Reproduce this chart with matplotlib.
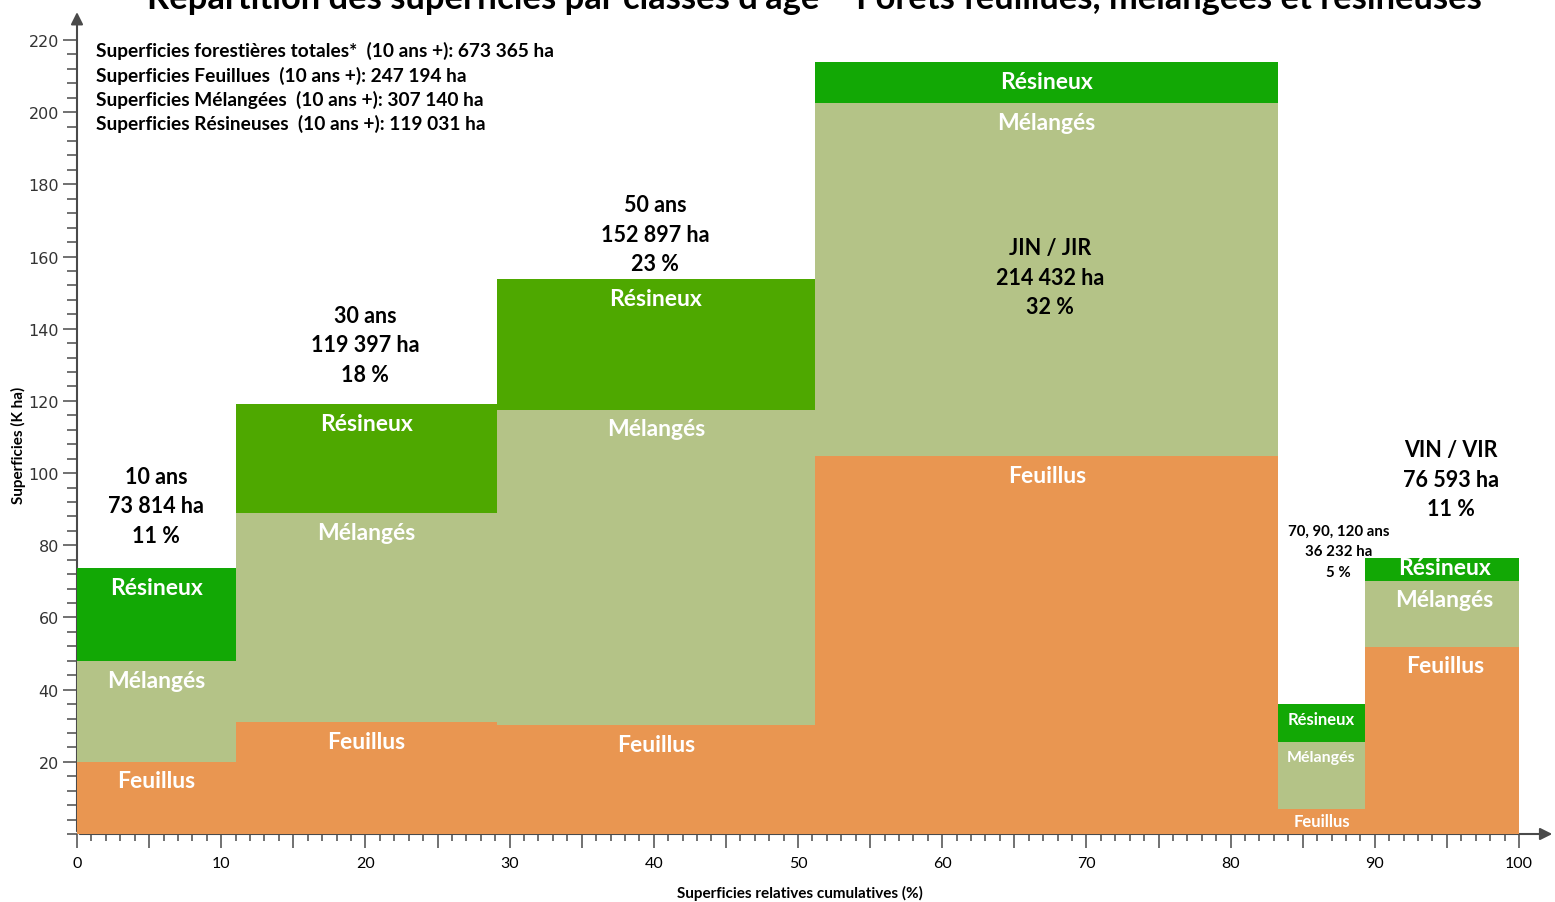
import matplotlib
matplotlib.use("Agg")
import matplotlib.pyplot as plt
import numpy as np
from matplotlib.ticker import MultipleLocator, FuncFormatter

# data (K ha, widths in % of total area)
classes = ["10 ans", "30 ans", "50 ans", "JIN / JIR", "70, 90, 120 ans", "VIN / VIR"]
surfaces = ["73 814 ha", "119 397 ha", "152 897 ha", "214 432 ha", "36 232 ha", "76 593 ha"]
percents = ["11 %", "18 %", "23 %", "32 %", "5 %", "11 %"]
widths = [11.0, 18.1, 22.1, 32.1, 6.0, 11.1]
feuillus = [20.0, 31.0, 30.2, 104.7, 6.9, 51.8]
melanges = [27.9, 57.9, 87.3, 97.8, 18.6, 18.3]
resineux = [25.8, 30.2, 36.2, 11.4, 10.5, 6.4]
summary = [
    "Superficies forestières totales*  (10 ans +): 673 365 ha",
    "Superficies Feuillues  (10 ans +): 247 194 ha",
    "Superficies Mélangées  (10 ans +): 307 140 ha",
    "Superficies Résineuses  (10 ans +): 119 031 ha",
]
title = "Répartition des superficies par classes d'âge – Forêts feuillues, mélangées et résineuses"

c_feu = "#E99651"
c_mel = "#B4C387"
c_res = ["#12A805", "#4EA800", "#4EA800", "#12A805", "#12A805", "#12A805"]
axis_col = "#4a4a4a"
FONT = ["Lato", "DejaVu Sans"]

fig = plt.figure(figsize=(15.55, 9.03), dpi=100)
ax = fig.add_axes([77/1555, 68/903, 1442/1555, 794/903])

widths = np.array(widths)
lefts = np.concatenate([[0], np.cumsum(widths)[:-1]])
centers = lefts + widths / 2
f = np.array(feuillus)
m = np.array(melanges)
r = np.array(resineux)

ax.bar(lefts, f, width=widths, align="edge", color=c_feu, zorder=3)
ax.bar(lefts, m, width=widths, bottom=f, align="edge", color=c_mel, zorder=3)
ax.bar(lefts, r, width=widths, bottom=f + m, align="edge", color=c_res, zorder=3)

# segment labels (white, near the top of each segment)
small5 = {"Résineux": 12, "Mélangés": 11.5, "Feuillus": 12}
offs = {0: (-19, -19, -19), 1: (-19, -19, -19), 2: (-19, -19, -19),
        3: (-19, -19, -19), 4: (-15, -15, -12), 5: (-10, -18, -18)}
for i in range(len(widths)):
    tops = [f[i] + m[i] + r[i], f[i] + m[i], f[i]]
    for k, name in enumerate(["Résineux", "Mélangés", "Feuillus"]):
        fs = small5[name] if i == 4 else 16.5
        ax.annotate(name, xy=(centers[i], tops[k]), xytext=(0, offs[i][k]),
                    textcoords="offset pixels", ha="center", va="center",
                    color="white", fontsize=fs, fontweight="bold", family=FONT, zorder=5)

# class annotations
ann_x = [5.5, 20.0, 40.1, 67.5, 87.5, 95.3]
ann_y = [90.9, 135.5, 166.2, 154.3, 78.4, 98.3]
for i in range(len(classes)):
    small = i == 4
    ax.text(ann_x[i], ann_y[i], classes[i] + "\n" + surfaces[i] + "\n" + percents[i],
            ha="center", va="center", multialignment="center",
            fontsize=10.8 if small else 15.5, linespacing=1.6 if small else 1.5,
            fontweight="bold", family=FONT, color="black", zorder=6)

ax.text((96 - 77) / 1442, 1 - (51 - 41 - 9) / 794, "\n".join(summary), transform=ax.transAxes,
        ha="left", va="top", fontsize=13.8, fontweight="bold", family=FONT,
        linespacing=1.42, color="black")

ax.set_xlim(0, 100)
ax.set_ylim(0, 220)
for s in ax.spines.values():
    s.set_visible(False)

# axes with arrows
ax.annotate("", xy=(0, 228.5), xytext=(0, 0), annotation_clip=False,
            arrowprops=dict(arrowstyle="-|>", color=axis_col, lw=1.5, mutation_scale=18), zorder=2)
ax.annotate("", xy=(102.5, 0), xytext=(0, 0), annotation_clip=False,
            arrowprops=dict(arrowstyle="-|>", color=axis_col, lw=1.5, mutation_scale=18), zorder=2)

ax.xaxis.set_major_locator(MultipleLocator(5))
ax.xaxis.set_minor_locator(MultipleLocator(1))
ax.xaxis.set_major_formatter(FuncFormatter(lambda v, p: "%d" % v if round(v) % 10 == 0 else ""))
ax.set_yticks(np.arange(20, 221, 20))
ax.yaxis.set_minor_locator(MultipleLocator(4))
ax.tick_params(axis="x", which="major", length=10, width=1.1, color=axis_col, pad=6,
               labelsize=11.5)
ax.tick_params(axis="x", which="minor", length=5, width=1.1, color=axis_col)
ax.tick_params(axis="y", which="major", length=10, width=1.1, color=axis_col, pad=3,
               labelsize=11.5, labelcolor="#333333")
ax.tick_params(axis="y", which="minor", length=7, width=1.1, color=axis_col)
for lab in ax.get_xticklabels():
    lab.set_family(FONT)

fig.text(18/1555, 1 - 445/903, "Superficies (K ha)", rotation=90, ha="center", va="center",
         fontsize=11, fontweight="bold", family=FONT)
fig.text(800/1555, 1 - 893/903, "Superficies relatives cumulatives (%)", ha="center",
         va="center", fontsize=11, fontweight="bold", family=FONT)
fig.text(814/1555, 1 - 9/903, title, ha="center", va="baseline", fontsize=24.8,
         fontweight="bold", family=FONT)

fig.savefig("out.png", dpi=100)
